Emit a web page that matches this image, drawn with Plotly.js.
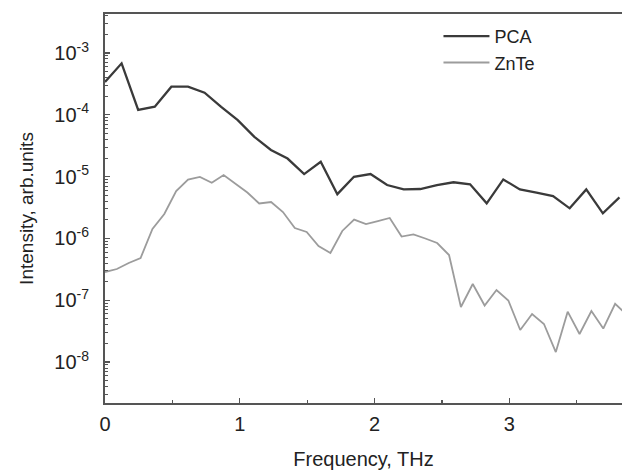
<!DOCTYPE html>
<html>
<head>
<meta charset="utf-8">
<script src="https://cdn.plot.ly/plotly-3.0.1.min.js"></script>
<style>html,body{margin:0;padding:0;background:#fff;}#chart{width:622px;height:473px;}</style>
</head>
<body>
<div id="chart"></div>
<script>
// Frequency grids (THz)
const pcaFreq = [0,0.1231,0.2462,0.3693,0.4924,0.6155,0.7386,0.8617,0.9848,1.1079,1.231,1.3541,1.4772,1.6003,1.7234,1.8465,1.9696,2.0927,2.2158,2.3389,2.462,2.5851,2.7082,2.8313,2.9544,3.0775,3.2006,3.3237,3.4468,3.5699,3.693,3.8161];
const pcaVal = [3.4e-4,6.8e-4,1.2e-4,1.35e-4,2.85e-4,2.85e-4,2.28e-4,1.34e-4,8.2e-5,4.4e-5,2.7e-5,1.96e-5,1.1e-5,1.74e-5,5.2e-6,9.95e-6,1.1e-5,7.3e-6,6.2e-6,6.3e-6,7.3e-6,8.1e-6,7.5e-6,3.7e-6,9.0e-6,6.2e-6,5.5e-6,4.85e-6,3.07e-6,6.2e-6,2.55e-6,4.6e-6];
const znteFreq = [0,0.088,0.176,0.264,0.352,0.44,0.528,0.616,0.704,0.792,0.88,0.968,1.056,1.144,1.232,1.32,1.408,1.496,1.584,1.672,1.76,1.848,1.936,2.024,2.112,2.2,2.288,2.376,2.464,2.552,2.64,2.728,2.816,2.904,2.992,3.08,3.168,3.256,3.344,3.432,3.52,3.608,3.696,3.784,3.872];
const znteVal = [2.86e-7,3.2e-7,4.0e-7,4.82e-7,1.42e-6,2.48e-6,5.85e-6,8.97e-6,9.86e-6,7.96e-6,1.06e-5,7.6e-6,5.53e-6,3.67e-6,3.88e-6,2.67e-6,1.47e-6,1.27e-6,7.5e-7,5.8e-7,1.32e-6,2.02e-6,1.71e-6,1.91e-6,2.14e-6,1.07e-6,1.16e-6,9.96e-7,8.43e-7,5.39e-7,7.76e-8,1.83e-7,8.2e-8,1.46e-7,9.9e-8,3.3e-8,5.98e-8,4.12e-8,1.45e-8,6.52e-8,2.84e-8,6.69e-8,3.48e-8,8.77e-8,5.77e-8];
const seriesNames = ['PCA','ZnTe'];
const yTickVals = [1e-8,1e-7,1e-6,1e-5,1e-4,1e-3];
const yTickText = ['10<sup>-8</sup>','10<sup>-7</sup>','10<sup>-6</sup>','10<sup>-5</sup>','10<sup>-4</sup>','10<sup>-3</sup>'];
const xTickVals = [0,1,2,3];
const xTickText = ['0','1','2','3'];

const FONT = 'Liberation Sans, Arial, Helvetica, sans-serif';
const axisColor = '#555555';

const traces = [
  {x: pcaFreq, y: pcaVal, name: seriesNames[0], type: 'scatter', mode: 'lines',
   legendgroup: 'a', line: {color: '#3a3a3a', width: 2.3}},
  {x: znteFreq, y: znteVal, name: seriesNames[1], type: 'scatter', mode: 'lines',
   legendgroup: 'b', line: {color: '#9c9c9c', width: 1.8}}
];

const layout = {
  width: 622, height: 473,
  margin: {l: 105, r: 0, t: 14, b: 70},
  paper_bgcolor: '#ffffff', plot_bgcolor: '#ffffff',
  font: {family: FONT, color: '#222222'},
  showlegend: true,
  legend: {x: 0.645, y: 0.99, xanchor: 'left', yanchor: 'top', bgcolor: 'rgba(0,0,0,0)',
           font: {size: 18, family: FONT, color: '#222'}, itemwidth: 46, tracegroupgap: 0},
  xaxis: {
    range: [0, 3.835], showgrid: false, zeroline: false,
    showline: true, linecolor: axisColor, linewidth: 2, mirror: true,
    ticks: 'inside', ticklen: 5, tickwidth: 1.2, tickcolor: axisColor,
    tickmode: 'array', tickvals: xTickVals, ticktext: xTickText,
    tickfont: {size: 20, family: FONT, color: '#222'}, ticklabelstandoff: 2,
    minor: {ticks: 'inside', ticklen: 3, tickwidth: 1.2, tickcolor: axisColor, dtick: 0.5, tick0: 0, showgrid: false},
    title: {text: 'Frequency, THz', font: {size: 20, family: FONT, color: '#222'}, standoff: 18}
  },
  yaxis: {
    type: 'log', range: [-8.663, -2.369], showgrid: false, zeroline: false,
    showline: true, linecolor: axisColor, linewidth: 2,
    ticks: 'inside', ticklen: 5, tickwidth: 1.2, tickcolor: axisColor,
    tickmode: 'array', tickvals: yTickVals, ticktext: yTickText,
    tickfont: {size: 20, family: FONT, color: '#222'}, ticklabelstandoff: 10,
    minor: {ticks: 'inside', ticklen: 3, tickwidth: 1, tickcolor: axisColor, dtick: 'D1', showgrid: false},
    title: {text: 'Intensity, arb.units', font: {size: 19, family: FONT, color: '#222'}, standoff: 16}
  }
};

Plotly.newPlot('chart', traces, layout, {displayModeBar: false, staticPlot: true});
</script>
</body>
</html>
